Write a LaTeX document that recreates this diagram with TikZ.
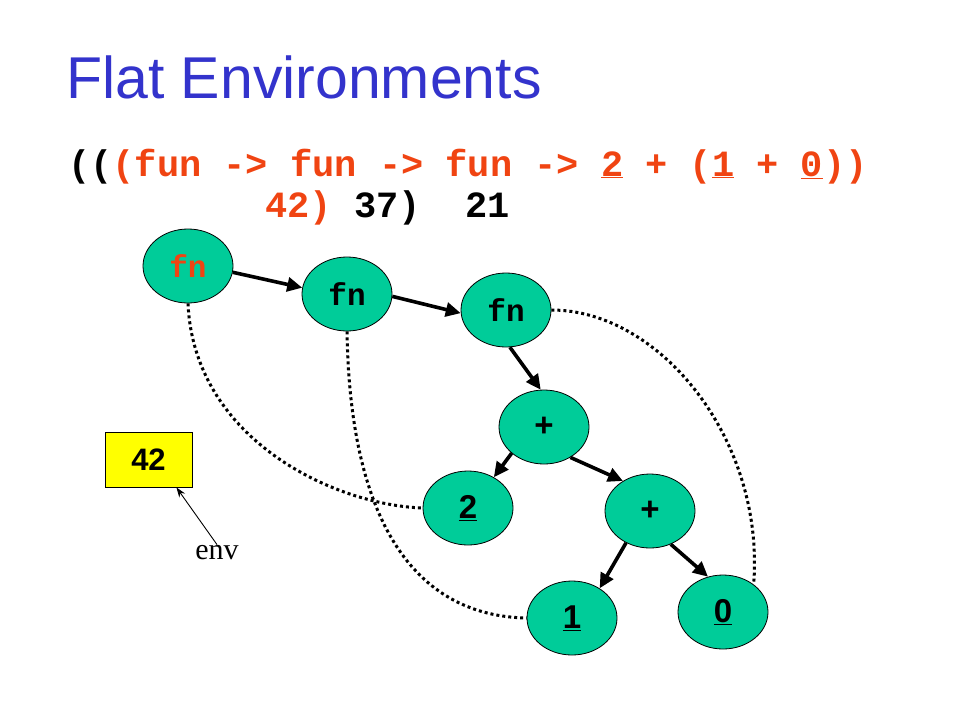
\documentclass[tikz,border=0pt]{standalone}
\usepackage{fontspec}
\setmainfont{Liberation Sans}
\newfontfamily\cmono{Liberation Mono}
\newfontfamily\cserif{Liberation Serif}
\usetikzlibrary{shapes.geometric,arrows.meta}
\definecolor{codered}{RGB}{240,68,18}
\definecolor{titleblue}{RGB}{51,51,204}
\definecolor{nodegreen}{RGB}{0,204,153}
\definecolor{boxyellow}{RGB}{255,255,0}
\tikzset{
  blob/.style={ellipse, draw=black, line width=0.8pt, fill=nodegreen,
    minimum width=90pt, minimum height=74pt, inner sep=0pt},
  fnlabel/.style={font=\cmono\bfseries\fontsize{31}{33}\selectfont},
  oplabel/.style={font=\bfseries\fontsize{33}{35}\selectfont},
  tree/.style={line width=3.6pt, -{Triangle[length=15pt,width=14pt]}},
  envlink/.style={line width=3pt, dash pattern=on 3pt off 3pt},
  codeline/.style={anchor=base west, inner sep=0pt,
    font=\cmono\bfseries\fontsize{37}{40}\selectfont}
}
\begin{document}
\begin{tikzpicture}[x=1pt,y=-1pt]
\useasboundingbox (0,0) rectangle (960,720);
% title
\node[anchor=base west, inner sep=0pt, text=titleblue,
  font=\fontsize{59}{64}\selectfont] (title) at (66,98) {Flat Environments};
% code
\node[codeline] (code1) at (68,176)
  {((\textcolor{codered}{(fun -> fun -> fun -> \underline{2} + (\underline{1} + \underline{0}))}};
\node[codeline] (code2) at (265,217) {\textcolor{codered}{42)} 37)~~21};
% tree nodes
\node[blob, fnlabel, text=codered] (fn1) at (188,266) {fn};
\node[blob, fnlabel] (fn2) at (347,294) {fn};
\node[blob, fnlabel] (fn3) at (506,310) {fn};
\node[blob, oplabel] (plus1) at (544,427) {+};
\node[blob, oplabel] (two) at (468,508) {\underline{2}};
\node[blob, oplabel] (plus2) at (650,511) {+};
\node[blob, oplabel] (one) at (572,618) {\underline{1}};
\node[blob, oplabel] (zero) at (723,612) {\underline{0}};
% tree arrows
\draw[tree] (fn1.-8) -- (fn2.172);
\draw[tree] (fn2.-3) -- (fn3.-176);
\draw[tree] (fn3.-84) -- (plus1.95);
\draw[tree] (plus1.-141) -- (two.50);
\draw[tree] (plus1.-49) -- (plus2.132);
\draw[tree] (plus2.-127) -- (one.47);
\draw[tree] (plus2.-58) -- (zero.113);
% environment links
\draw[envlink] (fn1.south) .. controls (194,440) and (335,505) .. (two.west);
\draw[envlink] (fn2.south) .. controls (350,530) and (420,616) .. (one.west);
\draw[envlink] (fn3.east) .. controls (660,310) and (765,440) .. (zero.42);
% env box
\node[draw=black, line width=0.8pt, fill=boxyellow, minimum width=87pt,
  minimum height=55pt, inner sep=0pt, font=\bfseries\fontsize{31}{33}\selectfont]
  (b42) at (148.5,459.5) {42};
\node[inner sep=1pt, font=\cserif\fontsize{30}{32}\selectfont] (env) at (217,553) {env};
\draw[line width=0.9pt, -{Stealth[length=10pt,width=7pt]}] (env.north) -- (b42.-45);
\end{tikzpicture}
\end{document}
